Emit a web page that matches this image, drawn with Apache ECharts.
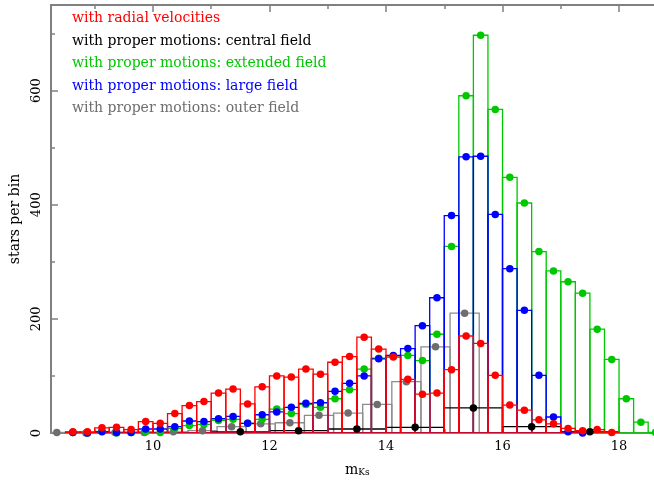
<!DOCTYPE html>
<html>
<head>
<meta charset="utf-8">
<script src="https://cdn.jsdelivr.net/npm/echarts@6/dist/echarts.min.js"></script>
<style>
  html, body { margin: 0; padding: 0; background: #ffffff; }
  #chart { width: 654px; height: 483px; }
</style>
</head>
<body>
<div id="chart"></div>
<script>
// Luminosity functions: number of stars per magnitude bin for each sample.

const legendNames = [
  'with radial velocities',
  'with proper motions: central field',
  'with proper motions: extended field',
  'with proper motions: large field',
  'with proper motions: outer field'
];

const xTickLabels = [10, 12, 14, 16, 18];
const xMinorTicks = [9, 11, 13, 15, 17];
const yTickLabels = [0, 200, 400, 600];
const yMinorTicks = [100, 300, 500, 700];

// radial velocities, 0.25 mag bins
const rvCenters = [8.625, 8.875, 9.125, 9.375, 9.625, 9.875, 10.125, 10.375, 10.625, 10.875,
  11.125, 11.375, 11.625, 11.875, 12.125, 12.375, 12.625, 12.875, 13.125, 13.375,
  13.625, 13.875, 14.125, 14.375, 14.625, 14.875, 15.125, 15.375, 15.625, 15.875,
  16.125, 16.375, 16.625, 16.875, 17.125, 17.375, 17.625, 17.875];
const rvCounts = [2, 2, 9, 10, 6, 20, 17, 34, 48, 55,
  70, 77, 51, 81, 100, 98, 112, 103, 124, 134,
  168, 147, 133, 94, 68, 70, 111, 170, 157, 101,
  49, 40, 23, 16, 8, 4, 6, 1];

// central field, 1 mag bins
const centralCenters = [11.5, 12.5, 13.5, 14.5, 15.5, 16.5, 17.5];
const centralCounts = [2, 4, 7, 10, 44, 11, 2];

// extended field, 0.25 mag bins
const extendedCenters = [8.625, 8.875, 9.125, 9.375, 9.625, 9.875, 10.125, 10.375, 10.625, 10.875,
  11.125, 11.375, 11.625, 11.875, 12.125, 12.375, 12.625, 12.875, 13.125, 13.375,
  13.625, 13.875, 14.125, 14.375, 14.625, 14.875, 15.125, 15.375, 15.625, 15.875,
  16.125, 16.375, 16.625, 16.875, 17.125, 17.375, 17.625, 17.875, 18.125, 18.375, 18.625];
const extendedCounts = [1, 0, 3, 0, 1, 2, 1, 8, 13, 15,
  22, 24, 17, 24, 42, 34, 50, 45, 60, 76,
  112, 131, 135, 136, 127, 173, 327, 591, 697, 567,
  448, 403, 318, 284, 265, 245, 182, 129, 60, 19, 1];

// large field, 0.25 mag bins
const largeCenters = [8.625, 8.875, 9.125, 9.375, 9.625, 9.875, 10.125, 10.375, 10.625, 10.875,
  11.125, 11.375, 11.625, 11.875, 12.125, 12.375, 12.625, 12.875, 13.125, 13.375,
  13.625, 13.875, 14.125, 14.375, 14.625, 14.875, 15.125, 15.375, 15.625, 15.875,
  16.125, 16.375, 16.625, 16.875, 17.125, 17.375];
const largeCounts = [1, 0, 2, 1, 1, 7, 7, 11, 21, 20,
  25, 29, 17, 32, 37, 45, 52, 53, 73, 87,
  100, 130, 136, 148, 188, 237, 381, 484, 485, 383,
  288, 215, 101, 28, 2, 0];

// outer field, 0.5 mag bins
const outerCenters = [8.35, 8.85, 9.35, 9.85, 10.35, 10.85, 11.35, 11.85, 12.35, 12.85,
  13.35, 13.85, 14.35, 14.85, 15.35];
const outerCounts = [1, 0, 1, 1, 2, 4, 11, 16, 18, 31,
  35, 50, 90, 151, 210];

const colors = {
  rv: '#ff0000',
  central: '#000000',
  extended: '#00c800',
  large: '#0000ff',
  outer: '#6e6e6e'
};
const outerLine = '#8c8c8c';

const serif = '"DejaVu Serif", serif';
const axisGray = '#808080';
const xMin = 8.25;
const xMax = 18.6;

function pairs(xs, ys) {
  return xs.map((x, i) => [x, ys[i]]);
}

// Open histogram boxes: each bin drawn as an outlined rectangle down to zero.
function histSeries(name, centers, counts, width, color, z) {
  return {
    name: name,
    type: 'custom',
    clip: true,
    z: z,
    data: pairs(centers, counts),
    renderItem: function (params, api) {
      const c = api.value(0);
      const v = api.value(1);
      const p0 = api.coord([c - width / 2, v]);
      const p1 = api.coord([c + width / 2, 0]);
      return {
        type: 'rect',
        shape: { x: p0[0], y: p0[1], width: p1[0] - p0[0], height: p1[1] - p0[1] },
        style: { fill: 'none', stroke: color, lineWidth: 1.3 }
      };
    }
  };
}

// Bin-centre markers; the last bin may sit just past the right edge of the frame.
function dotSeries(name, centers, counts, color, z) {
  return {
    name: name,
    type: 'scatter',
    clip: false,
    z: z,
    symbol: 'circle',
    symbolSize: 7.5,
    itemStyle: { color: color, opacity: 1 },
    data: pairs(centers, counts)
  };
}

function xAxisDef(position, ticks, len, showLine, labels) {
  return {
    type: 'value',
    min: xMin,
    max: xMax,
    position: position,
    axisLine: { show: showLine, onZero: false, lineStyle: { color: axisGray, width: 2 } },
    axisTick: { show: true, inside: true, length: len, customValues: ticks,
      lineStyle: { color: axisGray, width: 1.5 } },
    axisLabel: labels ? {
      show: true, customValues: labels, margin: 7,
      color: '#000', fontFamily: serif, fontSize: 13
    } : { show: false },
    splitLine: { show: false }
  };
}

function yAxisDef(ticks, len, showLine, labels) {
  return {
    type: 'value',
    min: 0,
    max: 750,
    position: 'left',
    axisLine: { show: showLine, onZero: false, lineStyle: { color: axisGray, width: 2 } },
    axisTick: { show: true, inside: true, length: len, customValues: ticks,
      lineStyle: { color: axisGray, width: 1.5 } },
    axisLabel: labels ? {
      show: true, customValues: labels, rotate: 90, margin: 8,
      color: '#000', fontFamily: serif, fontSize: 13
    } : { show: false },
    splitLine: { show: false },
    name: labels ? 'stars per bin' : '',
    nameLocation: 'middle',
    nameGap: 26,
    nameTextStyle: { color: '#000', fontFamily: serif, fontSize: 14 }
  };
}

const legendY = [19, 42.5, 64.5, 87, 109.5];
const legendColors = [colors.rv, colors.central, colors.extended, colors.large, colors.outer];

const chart = echarts.init(document.getElementById('chart'), null, { renderer: 'canvas' });

chart.setOption({
  animation: false,
  backgroundColor: '#ffffff',
  grid: { left: 51, top: 5, width: 603, height: 428, containLabel: false },
  xAxis: [
    xAxisDef('bottom', xTickLabels, 7, true, xTickLabels),
    xAxisDef('bottom', xMinorTicks, 4, false, null),
    xAxisDef('top', xTickLabels, 7, true, null),
    xAxisDef('top', xMinorTicks, 4, false, null)
  ],
  yAxis: [
    yAxisDef([200, 400, 600], 7, true, yTickLabels),
    yAxisDef(yMinorTicks, 4, false, null)
  ],
  series: [
    histSeries('outer', outerCenters, outerCounts, 0.5, outerLine, 2),
    histSeries('central', centralCenters, centralCounts, 1.0, colors.central, 2),
    histSeries('extended', extendedCenters, extendedCounts, 0.25, colors.extended, 2),
    histSeries('large', largeCenters, largeCounts, 0.25, colors.large, 2),
    histSeries('rv', rvCenters, rvCounts, 0.25, colors.rv, 2),
    dotSeries('outer dots', outerCenters, outerCounts, colors.outer, 3),
    dotSeries('central dots', centralCenters, centralCounts, colors.central, 3),
    dotSeries('extended dots', extendedCenters, extendedCounts, colors.extended, 3),
    dotSeries('large dots', largeCenters, largeCounts, colors.large, 3),
    dotSeries('rv dots', rvCenters, rvCounts, colors.rv, 3)
  ],
  graphic: legendNames.map((t, i) => ({
    type: 'text',
    left: 72,
    top: legendY[i] - 8,
    z: 10,
    style: {
      text: t,
      fill: legendColors[i],
      font: '14px "DejaVu Serif", serif'
    }
  })).concat([{
    type: 'text',
    left: 345,
    top: 463,
    z: 10,
    style: {
      text: '{m|m}{s|Ks}',
      rich: {
        m: { fontFamily: serif, fontSize: 14, fill: '#000', verticalAlign: 'bottom' },
        s: { fontFamily: serif, fontSize: 9, fill: '#000', padding: [6, 0, 0, 0] }
      }
    }
  }])
});
</script>
</body>
</html>
